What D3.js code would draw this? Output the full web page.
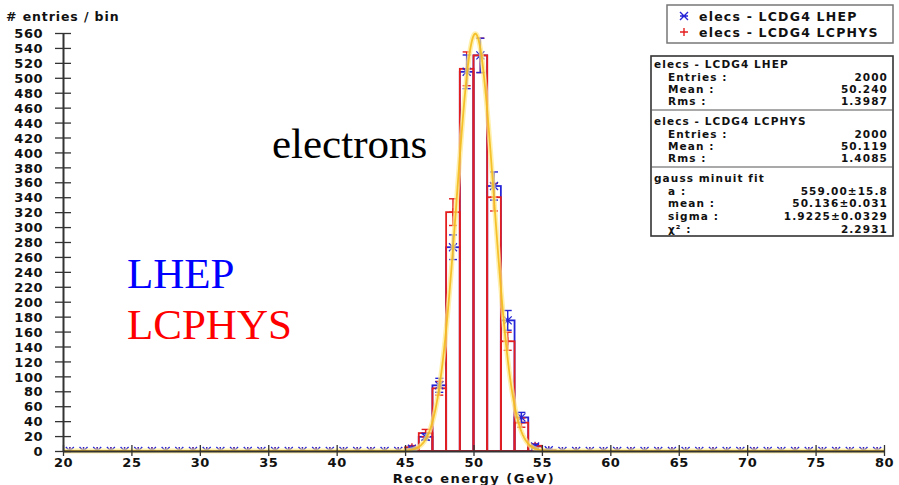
<!DOCTYPE html>
<html>
<head>
<meta charset="utf-8">
<script src="https://cdn.jsdelivr.net/npm/d3@7"></script>
<style>
  body { margin: 0; background: #fff; }
  svg text.lbl { font-family: "DejaVu Sans", sans-serif; font-weight: bold; letter-spacing: 0.5px; fill: #111; }
  svg text.stat { font-family: "DejaVu Sans", sans-serif; font-weight: bold; letter-spacing: 1.1px; fill: #111; font-size: 10.5px; }
</style>
</head>
<body>
<svg id="chart" width="899" height="485"></svg>
<script>
// Histogram binning: 1 GeV bins from 20 to 80 GeV
const binLow = 20, binHigh = 80, binWidth = 1;

// Entries per bin (bins 20-21 ... 79-80)
const lhepCounts = [
  0,0,0,0,0, 0,0,0,0,0, 0,0,0,0,0, 0,0,0,0,0, 0,0,0,0,0,
  3,19,88,273,508,530,355,175,45,6,1,
  0,0,0,0, 0,0,0,0,0, 0,0,0,0,0, 0,0,0,0,0, 0,0,0,0,0
];
const lcphysCounts = [
  0,0,0,0,0, 0,0,0,0,0, 0,0,0,0,0, 0,0,0,0,0, 0,0,0,0,0,
  5,24,84,320,512,530,340,147,38,7,1,
  0,0,0,0, 0,0,0,0,0, 0,0,0,0,0, 0,0,0,0,0, 0,0,0,0,0
];

// Axis ticks
const yTicks = d3.range(0, 561, 20);
const xTicks = [20, 25, 30, 35, 40, 45, 50, 55, 60, 65, 70, 75, 80];

// Legend and statistics
const seriesNames = ["elecs - LCDG4 LHEP", "elecs - LCDG4 LCPHYS"];
const lhepStats = [["Entries :", "2000"], ["Mean :", "50.240"], ["Rms :", "1.3987"]];
const lcphysStats = [["Entries :", "2000"], ["Mean :", "50.119"], ["Rms :", "1.4085"]];

// Gaussian fit result
const fitTitle = "gauss minuit fit";
const fitA = 559.00, fitAErr = 15.8;
const fitMean = 50.136, fitMeanErr = 0.031;
const fitSigma = 1.9225, fitSigmaErr = 0.0329;
const fitChi2 = 2.2931;

const blue = "#2424d6", red = "#e41e1e";

const svg = d3.select("#chart");
const x = d3.scaleLinear().domain([binLow, binHigh]).range([63, 884]);
const y = d3.scaleLinear().domain([0, 560]).range([451, 33]);

const bins = d3.range(binLow, binHigh, binWidth);

// ---- fit curve: a * exp(-((E - mean)/sigma)^2)
const fitFn = e => fitA * Math.exp(-Math.pow((e - fitMean) / fitSigma, 2));
const curvePts = d3.range(binLow, binHigh + 0.001, 0.05).map(e => [e, fitFn(e)]);

// ---- histogram boxes
function drawBoxes(counts, color) {
  svg.append("g").selectAll("rect")
    .data(bins.map((b, i) => ({ lo: b, v: counts[i] })).filter(d => d.v > 0))
    .join("rect")
    .attr("x", d => x(d.lo))
    .attr("y", d => y(d.v))
    .attr("width", d => x(d.lo + binWidth) - x(d.lo))
    .attr("height", d => y(0) - y(d.v))
    .attr("fill", "none")
    .attr("stroke", color)
    .attr("stroke-width", 1.8);
}
drawBoxes(lhepCounts, blue);
drawBoxes(lcphysCounts, red);

// clip so markers sitting on zero show only above the axis
svg.append("clipPath").attr("id", "plotClip")
  .append("rect").attr("x", 55).attr("y", 20).attr("width", 840).attr("height", 431);

function drawErrors(counts, color, marker) {
  const g = svg.append("g").attr("clip-path", "url(#plotClip)");
  const data = bins.map((b, i) => ({ c: b + binWidth / 2, v: counts[i], e: Math.sqrt(counts[i]) }));
  const cap = 4;
  data.forEach(d => {
    const cx = x(d.c), cy = y(d.v);
    if (d.e > 0) {
      g.append("line").attr("x1", cx).attr("x2", cx).attr("y1", y(d.v - d.e)).attr("y2", y(d.v + d.e))
        .attr("stroke", color).attr("stroke-width", 1.4);
      [d.v - d.e, d.v + d.e].forEach(t =>
        g.append("line").attr("x1", cx - cap).attr("x2", cx + cap).attr("y1", y(t)).attr("y2", y(t))
          .attr("stroke", color).attr("stroke-width", 1.4));
    }
    const s = 4;
    let p;
    if (marker === "star") {
      p = `M${cx - s},${cy - s}L${cx + s},${cy + s}M${cx - s},${cy + s}L${cx + s},${cy - s}M${cx},${cy - s}L${cx},${cy + s}`;
    } else {
      p = `M${cx - s},${cy}L${cx + s},${cy}M${cx},${cy - s}L${cx},${cy + s}`;
    }
    g.append("path").attr("d", p).attr("stroke", color).attr("stroke-width", 1.3).attr("fill", "none");
  });
}
drawErrors(lcphysCounts, red, "plus");
drawErrors(lhepCounts, blue, "star");

// ---- fit curve (soft glow underneath a thin yellow-orange line)
const line = d3.line().x(d => x(d[0])).y(d => y(d[1])).curve(d3.curveLinear);
svg.append("path").attr("d", line(curvePts)).attr("fill", "none")
  .attr("stroke", "#ffe98a").attr("stroke-width", 5).attr("opacity", 0.7);
svg.append("path").attr("d", line(curvePts)).attr("fill", "none")
  .attr("stroke", "#f4bb1c").attr("stroke-width", 1.8).attr("opacity", 0.9);

// ---- axes
const yAxis = svg.append("g").attr("transform", `translate(${x(binLow)},0)`)
  .call(d3.axisLeft(y).tickValues(yTicks).tickSize(8).tickPadding(12).tickSizeOuter(0));
yAxis.select(".domain").attr("stroke", "#333").attr("stroke-width", 2);
yAxis.selectAll(".tick line").attr("x1", -8).attr("x2", 8).attr("stroke", "#333").attr("stroke-width", 1.3);
yAxis.selectAll(".tick text").attr("class", "lbl").style("font-size", "13px").attr("dy", "0.36em");

const xAxis = svg.append("g").attr("transform", `translate(0,${y(0)})`)
  .call(d3.axisBottom(x).tickValues(xTicks).tickSize(6).tickSizeOuter(0));
xAxis.select(".domain").attr("stroke", "#333").attr("stroke-width", 2);
xAxis.selectAll(".tick line").attr("y1", -6).attr("y2", 5).attr("stroke", "#333").attr("stroke-width", 1.3);
xAxis.selectAll(".tick text").attr("class", "lbl").style("font-size", "13px").attr("y", 7).attr("dy", "0.71em");

svg.append("text").attr("class", "lbl").attr("x", 474).attr("y", 483)
  .attr("text-anchor", "middle").style("font-size", "13px").style("letter-spacing", "1.5px")
  .text("Reco energy (GeV)");
svg.append("text").attr("class", "lbl").attr("x", 6).attr("y", 21)
  .style("font-size", "12.5px").style("letter-spacing", "0.9px").text("# entries / bin");

// ---- annotations
const serif = "'Liberation Serif', 'Times New Roman', serif";
svg.append("text").attr("x", 272).attr("y", 158).style("font-family", serif).style("font-size", "43px")
  .attr("fill", "#000").text("electrons");
svg.append("text").attr("x", 127).attr("y", 288).style("font-family", serif).style("font-size", "43px")
  .attr("fill", "#0000ff").text("LHEP");
svg.append("text").attr("x", 127).attr("y", 339).style("font-family", serif).style("font-size", "43px")
  .attr("fill", "#ff0000").text("LCPHYS");

// ---- legend box
const leg = svg.append("g");
leg.append("rect").attr("x", 667).attr("y", 5).attr("width", 226).attr("height", 38)
  .attr("fill", "#fff").attr("stroke", "#777").attr("stroke-width", 1.5);
[[blue, "star"], [red, "plus"]].forEach(([c, m], i) => {
  const cx = 684, cy = 16 + i * 16, s = 4;
  const p = m === "star"
    ? `M${cx - s},${cy - s}L${cx + s},${cy + s}M${cx - s},${cy + s}L${cx + s},${cy - s}M${cx - s},${cy}L${cx + s},${cy}`
    : `M${cx - s},${cy}L${cx + s},${cy}M${cx},${cy - s}L${cx},${cy + s}`;
  leg.append("path").attr("d", p).attr("stroke", c).attr("stroke-width", 1.4).attr("fill", "none");
  leg.append("text").attr("class", "lbl").attr("x", 699).attr("y", cy + 4.5)
    .style("font-size", "12.5px").style("letter-spacing", "1.2px").text(seriesNames[i]);
});

// ---- statistics box
const st = svg.append("g");
const bx0 = 651, bx1 = 893, by0 = 56, by1 = 236;
st.append("rect").attr("x", bx0).attr("y", by0).attr("width", bx1 - bx0).attr("height", by1 - by0)
  .attr("fill", "#fff").attr("stroke", "#333").attr("stroke-width", 1.6);
[110, 167].forEach(yy => st.append("line").attr("x1", bx0).attr("x2", bx1).attr("y1", yy).attr("y2", yy)
  .attr("stroke", "#555").attr("stroke-width", 1.2));

function statRow(label, value, yy, indent) {
  st.append("text").attr("class", "stat").attr("x", indent ? 668 : 654).attr("y", yy + 4)
    .text(label);
  if (value !== null)
    st.append("text").attr("class", "stat").attr("x", 888).attr("y", yy + 4)
      .attr("text-anchor", "end").text(value);
}
statRow(seriesNames[0], null, 64, false);
lhepStats.forEach((r, i) => statRow(r[0], r[1], 77 + i * 12.2, true));
statRow(seriesNames[1], null, 121, false);
lcphysStats.forEach((r, i) => statRow(r[0], r[1], 133.5 + i * 12.3, true));
statRow(fitTitle, null, 178, false);
statRow("a :", `${fitA.toFixed(2)}\u00b1${fitAErr}`, 190.5, true);
statRow("mean :", `${fitMean.toFixed(3)}\u00b1${fitMeanErr.toFixed(3)}`, 203.3, true);
statRow("sigma :", `${fitSigma.toFixed(4)}\u00b1${fitSigmaErr.toFixed(4)}`, 216.1, true);
statRow("\u03c7\u00b2 :", fitChi2.toFixed(4), 228.8, true);
</script>
</body>
</html>
